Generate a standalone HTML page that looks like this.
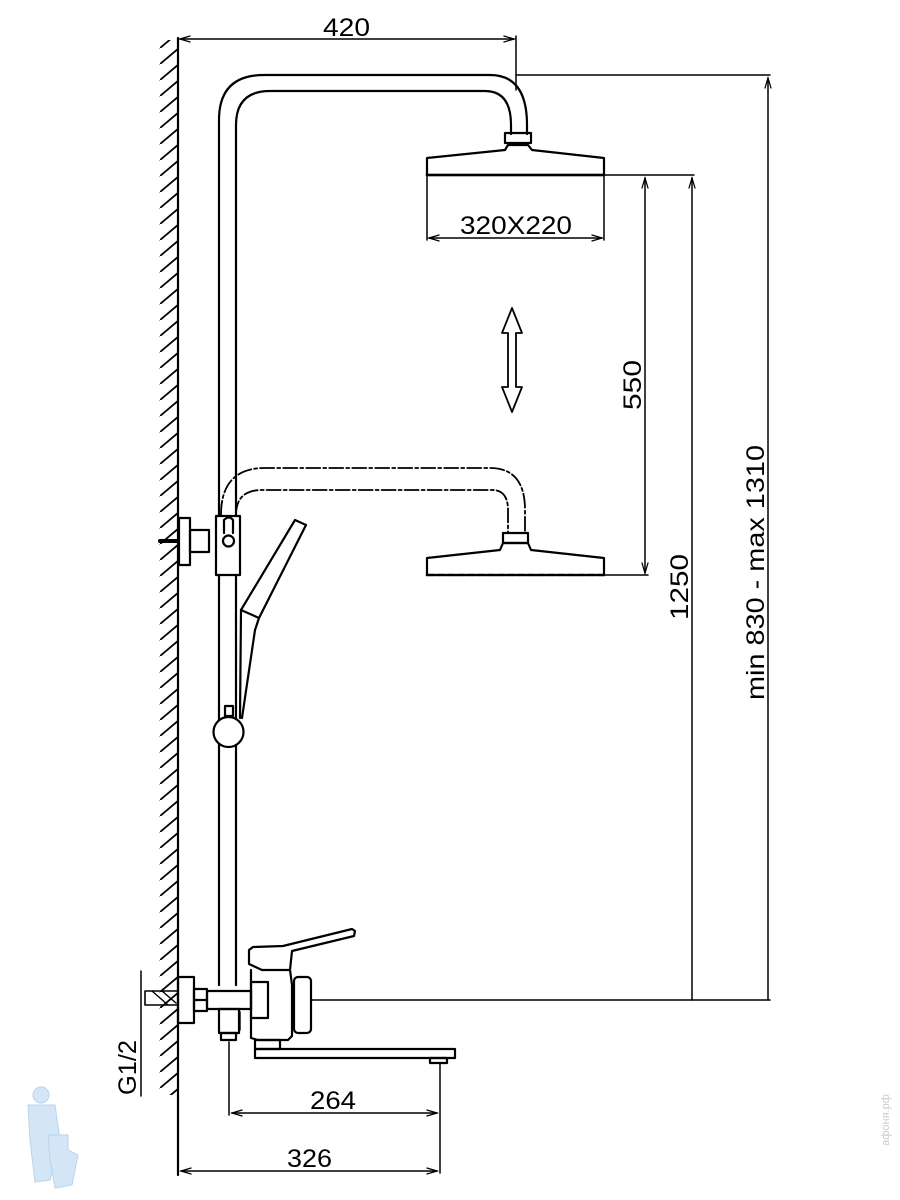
<!DOCTYPE html>
<html><head><meta charset="utf-8"><style>
html,body{margin:0;padding:0;background:#fff;}
svg{display:block;}
text{font-family:"Liberation Sans",Arial,sans-serif;fill:#000;}
</style></head><body>
<svg width="900" height="1200" viewBox="0 0 900 1200" xmlns="http://www.w3.org/2000/svg">
<defs>
<pattern id="hatch" width="20" height="16" patternUnits="userSpaceOnUse">
<line x1="0" y1="16" x2="19" y2="0" stroke="#000" stroke-width="1.8"/>
</pattern>
<marker id="ar" viewBox="0 0 10 10" refX="10" refY="5" markerWidth="9" markerHeight="7" orient="auto-start-reverse">
<path d="M0,2 L10,5 L0,8" fill="none" stroke="#000" stroke-width="1.2"/>
</marker>
</defs>
<g fill="none" stroke="#000" stroke-width="2.2" stroke-linecap="round" stroke-linejoin="round">
<line x1="178" y1="38" x2="178" y2="1175"/>
<rect x="159" y="40" width="18" height="1055" fill="url(#hatch)" stroke="none"/>
<line x1="180" y1="39" x2="514" y2="39" stroke-width="1.5" marker-start="url(#ar)" marker-end="url(#ar)"/>
<line x1="516" y1="36" x2="516" y2="90" stroke-width="1.5"/>
<path d="M219,985 L219,120 Q219,75 264,75 L490,75 Q527,75 527,125 L527,134"/>
<path d="M236,515 L236,125 Q236,91 270,91 L485,91 Q511,91 511,125 L511,134"/>
<line x1="236" y1="575" x2="236" y2="985"/>
<rect x="505" y="133" width="26" height="10"/>
<path d="M427,175 L427,158 L505,150 L508,145 L528,145 L532,150 L604,158 L604,175 Z"/>
<line x1="427" y1="175" x2="604" y2="175" stroke-width="2.6"/>
<line x1="427" y1="175" x2="427" y2="240" stroke-width="1.5"/>
<line x1="604" y1="175" x2="604" y2="240" stroke-width="1.5"/>
<line x1="429" y1="238" x2="602" y2="238" stroke-width="1.5" marker-start="url(#ar)" marker-end="url(#ar)"/>
<line x1="516" y1="75" x2="770" y2="75" stroke-width="1.5"/>
<line x1="604" y1="175" x2="694" y2="175" stroke-width="1.5"/>
<line x1="768" y1="78" x2="768" y2="1000" stroke-width="1.5" marker-start="url(#ar)"/>
<line x1="692" y1="178" x2="692" y2="1000" stroke-width="1.5" marker-start="url(#ar)"/>
<line x1="645" y1="178" x2="645" y2="573" stroke-width="1.5" marker-start="url(#ar)" marker-end="url(#ar)"/>
<line x1="604" y1="575" x2="648" y2="575" stroke-width="1.5"/>
<line x1="311" y1="1000" x2="770" y2="1000" stroke-width="1.5"/>
<path d="M512,308 L522,333 L516,333 L516,387 L522,387 L512,412 L502,387 L508,387 L508,333 L502,333 Z" stroke-width="1.8"/>
<g stroke-dasharray="14,3,3,3" stroke-width="1.8">
<path d="M221,515 Q221,468 265,468 L490,468 Q525,468 525,510 L525,533"/>
<path d="M236,515 Q236,490 262,490 L492,490 Q508,490 508,510 L508,533"/>
</g>
<rect x="503" y="533" width="25" height="10"/>
<path d="M427,575 L427,558 L500,550 L503,543 L528,543 L531,550 L604,558 L604,575"/>
<line x1="427" y1="575" x2="604" y2="575" stroke-width="2.6" stroke-dasharray="8,2"/>
<line x1="160" y1="541" x2="178" y2="541" stroke-width="4"/>
<rect x="179" y="518" width="11" height="47"/>
<rect x="190" y="530" width="19" height="22"/>
<rect x="216" y="516" width="24" height="59" fill="#fff"/>
<path d="M224,533 L224,520 Q229,515 233,520 L233,533"/>
<circle cx="228.5" cy="541" r="5.5"/>
<path d="M241,610 L295,520 L306,525 L259,618 Z"/>
<path d="M259,618 L255,630 L242,718 M241,610 L240,718"/>
<rect x="225" y="706" width="8" height="10"/>
<circle cx="228.5" cy="732" r="15" fill="#fff"/>
<rect x="145" y="991" width="33" height="14" stroke-width="1.6"/>
<line x1="152" y1="991" x2="168" y2="1005" stroke-width="1.4"/>
<line x1="162" y1="991" x2="176" y2="1003" stroke-width="1.4"/>
<line x1="141" y1="971" x2="141" y2="1096" stroke-width="1.5"/>
<rect x="178" y="977" width="16" height="46"/>
<rect x="194" y="989" width="13" height="22"/>
<line x1="194" y1="1000" x2="207" y2="1000"/>
<rect x="207" y="991" width="44" height="18"/>
<rect x="219" y="1009" width="20" height="24"/>
<rect x="221" y="1033" width="15" height="7"/>
<line x1="240" y1="1012" x2="240" y2="1030" stroke-width="1.4"/>
<path d="M251,970 L251,1038 L258,1040 L288,1040 L292,1036 L292,985 L290,970"/>
<rect x="251" y="982" width="17" height="36"/>
<path d="M249,950 L249,964 L262,970 L290,970 L292,951 L354,936 L355,931 L352,929 L283,946 L253,947 Z"/>
<rect x="294" y="977" width="17" height="56" rx="4"/>
<rect x="255" y="1040" width="25" height="9"/>
<rect x="255" y="1049" width="200" height="9"/>
<rect x="430" y="1058" width="17" height="5"/>
<line x1="229" y1="1042" x2="229" y2="1115" stroke-width="1.5"/>
<line x1="440" y1="1064" x2="440" y2="1173" stroke-width="1.5"/>
<line x1="232" y1="1113" x2="437" y2="1113" stroke-width="1.5" marker-start="url(#ar)" marker-end="url(#ar)"/>
<line x1="181" y1="1171" x2="437" y2="1171" stroke-width="1.5" marker-start="url(#ar)" marker-end="url(#ar)"/>
</g>
<text x="323" y="36" font-size="25" textLength="47" lengthAdjust="spacingAndGlyphs">420</text>
<text x="460" y="234" font-size="25" textLength="112" lengthAdjust="spacingAndGlyphs">320X220</text>
<text x="310" y="1109" font-size="25" textLength="46" lengthAdjust="spacingAndGlyphs">264</text>
<text x="287" y="1167" font-size="25" textLength="45" lengthAdjust="spacingAndGlyphs">326</text>
<text transform="translate(641,410) rotate(-90)" font-size="25" textLength="50" lengthAdjust="spacingAndGlyphs">550</text>
<text transform="translate(688,620) rotate(-90)" font-size="25" textLength="66" lengthAdjust="spacingAndGlyphs">1250</text>
<text transform="translate(764,700) rotate(-90)" font-size="25" textLength="255" lengthAdjust="spacingAndGlyphs">min 830 - max 1310</text>
<text transform="translate(136,1095) rotate(-90)" font-size="25" textLength="55" lengthAdjust="spacingAndGlyphs">G1/2</text>
<text transform="translate(889,1120) rotate(-90)" font-size="11" text-anchor="middle" style="fill:#ccc">афоня.рф</text>
<g fill="#d4e6f5" stroke="#b8d4ec" stroke-width="1">
<circle cx="41" cy="1095" r="8"/>
<path d="M28,1105 L55,1105 L60,1140 L50,1180 L35,1182 L30,1140 Z"/>
<path d="M48,1135 L68,1135 L68,1150 L78,1155 L72,1185 L55,1188 L50,1160 Z"/>
</g>
</svg>
</body></html>
